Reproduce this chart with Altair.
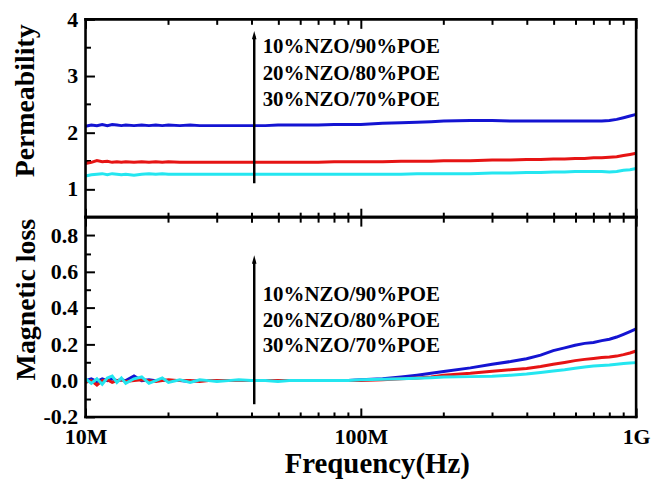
import altair as alt
import pandas as pd

# ---------------- data ----------------
freq_mhz = [10, 10.5, 11, 11.5, 12, 12.5, 13, 13.5, 14, 15, 16, 17, 18, 19, 20,
            22, 24, 26, 28, 30, 33, 36, 40, 45, 50, 55, 60, 70, 80, 90, 100,
            120, 140, 160, 180, 200, 250, 300, 350, 400, 450, 500, 550, 600,
            650, 700, 750, 800, 850, 900, 950, 1000]

series_names = ["10%NZO/90%POE", "20%NZO/80%POE", "30%NZO/70%POE"]
series_colors = ["#1414d2", "#e61414", "#24e6f0"]

perm_10 = [2.11, 2.13, 2.12, 2.14, 2.12, 2.14, 2.13, 2.12, 2.13, 2.12, 2.13, 2.12, 2.13, 2.12, 2.13,
           2.12, 2.13, 2.12, 2.12, 2.12, 2.12, 2.12, 2.12, 2.12, 2.13, 2.13, 2.13, 2.13, 2.14, 2.14, 2.14,
           2.16, 2.17, 2.18, 2.19, 2.20, 2.21, 2.21, 2.20, 2.20, 2.20, 2.20, 2.20, 2.20,
           2.20, 2.20, 2.20, 2.21, 2.23, 2.26, 2.29, 2.32]
perm_20 = [1.45, 1.47, 1.50, 1.48, 1.49, 1.47, 1.48, 1.47, 1.48, 1.47, 1.48, 1.47, 1.48, 1.47, 1.48,
           1.47, 1.47, 1.47, 1.47, 1.47, 1.47, 1.47, 1.47, 1.47, 1.47, 1.47, 1.47, 1.47, 1.48, 1.48, 1.48,
           1.48, 1.49, 1.49, 1.49, 1.50, 1.50, 1.51, 1.51, 1.52, 1.52, 1.53, 1.53, 1.54,
           1.54, 1.55, 1.55, 1.56, 1.57, 1.59, 1.61, 1.63]
perm_30 = [1.23, 1.25, 1.26, 1.27, 1.25, 1.27, 1.26, 1.25, 1.26, 1.24, 1.26, 1.27, 1.26, 1.27, 1.26,
           1.26, 1.26, 1.26, 1.26, 1.26, 1.26, 1.26, 1.26, 1.26, 1.26, 1.26, 1.26, 1.26, 1.26, 1.26, 1.26,
           1.26, 1.26, 1.27, 1.27, 1.27, 1.27, 1.28, 1.28, 1.29, 1.29, 1.30, 1.30, 1.31,
           1.31, 1.31, 1.31, 1.30, 1.31, 1.33, 1.34, 1.36]

loss_10 = [0.00, 0.01, -0.005, 0.01, 0.00, 0.01, 0.00, 0.005, 0.00, 0.025, 0.00, 0.005, 0.00, 0.005, 0.00,
           0.00, -0.005, 0.00, 0.00, 0.00, 0.00, 0.00, 0.00, 0.00, 0.00, 0.00, 0.00, 0.00, 0.00, 0.00, 0.005,
           0.01, 0.02, 0.03, 0.04, 0.05, 0.07, 0.09, 0.105, 0.12, 0.14, 0.165, 0.18, 0.195,
           0.205, 0.21, 0.22, 0.228, 0.24, 0.255, 0.27, 0.285]
loss_20 = [-0.01, 0.00, -0.025, 0.00, 0.005, -0.01, 0.00, 0.005, -0.005, 0.00, 0.005, 0.00, -0.005, 0.00, 0.005,
           0.00, 0.00, -0.005, 0.00, 0.00, 0.00, 0.00, 0.00, 0.00, 0.00, 0.00, 0.00, 0.00, 0.00, 0.00, 0.00,
           0.005, 0.01, 0.015, 0.02, 0.03, 0.04, 0.052, 0.06, 0.067, 0.078, 0.09, 0.10, 0.11,
           0.117, 0.122, 0.127, 0.13, 0.135, 0.143, 0.152, 0.163]
loss_30 = [0.01, -0.015, 0.01, -0.02, 0.015, 0.025, -0.01, 0.015, -0.015, 0.01, 0.02, -0.015, 0.00, 0.015, -0.01,
           0.005, -0.01, 0.005, 0.00, -0.005, 0.00, 0.005, 0.00, 0.00, -0.005, 0.00, 0.00, 0.00, 0.00, 0.00, 0.005,
           0.008, 0.01, 0.013, 0.016, 0.02, 0.022, 0.024, 0.03, 0.036, 0.045, 0.053, 0.06, 0.068,
           0.075, 0.08, 0.083, 0.086, 0.09, 0.094, 0.097, 0.099]

# axis domains
freq_domain = [1e7, 1e9]
perm_domain = [0.5, 4]
loss_domain = [-0.2, 0.9]

# annotation anchors (data coordinates)
label_freq = 44e6
arrow_freq = 41e6
perm_label_y = [3.51, 3.04, 2.57]
perm_arrow = [1.10, 3.70]
loss_label_y = [0.47, 0.33, 0.19]
loss_arrow = [-0.13, 0.66]

x_major = [1e7, 1e8, 1e9]
x_minor = [2e7, 3e7, 4e7, 5e7, 6e7, 7e7, 8e7, 9e7,
           2e8, 3e8, 4e8, 5e8, 6e8, 7e8, 8e8, 9e8]
perm_major = [1, 2, 3, 4]
perm_minor = [1.5, 2.5, 3.5]
loss_major = [-0.2, 0.0, 0.2, 0.4, 0.6, 0.8]
loss_minor = [-0.1, 0.1, 0.3, 0.5, 0.7]


def long_df(arrays):
    rows = []
    for name, vals in zip(series_names, arrays):
        for f, v in zip(freq_mhz, vals):
            rows.append({"freq": f * 1e6, "value": v, "series": name})
    return pd.DataFrame(rows)


perm_df = long_df([perm_10, perm_20, perm_30])
loss_df = long_df([loss_10, loss_20, loss_30])

FONT = "Liberation Serif"
MAJ, MIN = 9, 5
x_scale = alt.Scale(type="log", domain=freq_domain, nice=False)
color_scale = alt.Scale(domain=series_names, range=series_colors)
TXT = dict(labelFont=FONT, titleFont=FONT, labelFontWeight="bold", titleFontWeight="bold",
           labelColor="black", titleColor="black")


def tick_axis(values, orient, size, **kw):
    return alt.Axis(values=values, orient=orient, tickSize=size, offset=-size,
                    domain=False, labels=False, grid=False, tickWidth=2,
                    tickColor="black", **kw)


def panel(df, y_dom, y_major, y_minor, y_title, y_fmt, title_pad, title_y, label_y, arrow, show_x):
    y_scale = alt.Scale(domain=y_dom, nice=False, zero=False)
    base = alt.Chart(df)
    if show_x:
        x_main_axis = alt.Axis(values=x_major, orient="bottom", tickSize=MAJ, offset=-MAJ,
                               domain=False, grid=False, tickWidth=2, tickColor="black",
                               labelExpr="datum.value >= 1e9 ? '1G' : (datum.value >= 1e8 ? '100M' : '10M')",
                               labelFontSize=22, labelPadding=10, labelFlush=False,
                               titleFontSize=29, titlePadding=2, titleX=293, **TXT)
        x_title = "Frequency(Hz)"
    else:
        x_main_axis = tick_axis(x_major, "bottom", MAJ)
        x_title = None

    lines = base.mark_line(strokeWidth=3).encode(
        x=alt.X("freq:Q", scale=x_scale, axis=x_main_axis, title=x_title),
        y=alt.Y("value:Q", scale=y_scale, title=y_title,
                axis=alt.Axis(values=y_major, orient="left", tickSize=MAJ, offset=-MAJ,
                              domain=False, grid=False, tickWidth=2, tickColor="black",
                              labelExpr=y_fmt, labelFontSize=22, labelPadding=8,
                              titleFontSize=28, titlePadding=title_pad, titleY=title_y, **TXT)),
        color=alt.Color("series:N", scale=color_scale, legend=None),
        detail="series:N",
    )
    minor_bl = base.mark_line(opacity=0).encode(
        x=alt.X("freq:Q", scale=x_scale, axis=tick_axis(x_minor, "bottom", MIN), title=None),
        y=alt.Y("value:Q", scale=y_scale, axis=tick_axis(y_minor, "left", MIN), title=None),
        detail="series:N",
    )
    major_top = base.mark_line(opacity=0).encode(
        x=alt.X("freq:Q", scale=x_scale, axis=tick_axis(x_major, "top", MAJ), title=None),
        y=alt.Y("value:Q", scale=y_scale, axis=None),
        detail="series:N",
    )
    minor_top = base.mark_line(opacity=0).encode(
        x=alt.X("freq:Q", scale=x_scale, axis=tick_axis(x_minor, "top", MIN), title=None),
        y=alt.Y("value:Q", scale=y_scale, axis=None),
        detail="series:N",
    )

    # frame edges as rules through the scales
    vert_df = pd.DataFrame({"x": freq_domain, "y1": [y_dom[0]] * 2, "y2": [y_dom[1]] * 2})
    horiz_df = pd.DataFrame({"y": y_dom, "x1": [freq_domain[0]] * 2, "x2": [freq_domain[1]] * 2})
    frame_v = alt.Chart(vert_df).mark_rule(color="black", strokeWidth=2.6, strokeCap="square").encode(
        x=alt.X("x:Q", scale=x_scale, axis=None),
        y=alt.Y("y1:Q", scale=y_scale, axis=None),
        y2="y2:Q",
    )
    frame_h = alt.Chart(horiz_df).mark_rule(color="black", strokeWidth=2.6, strokeCap="square").encode(
        y=alt.Y("y:Q", scale=y_scale, axis=None),
        x=alt.X("x1:Q", scale=x_scale, axis=None),
        x2="x2:Q",
    )

    ann = pd.DataFrame({"freq": [label_freq] * 3, "value": label_y, "text": series_names})
    texts = alt.Chart(ann).mark_text(font=FONT, fontWeight="bold", fontSize=21,
                                     align="left", baseline="middle", color="black").encode(
        x=alt.X("freq:Q", scale=x_scale, axis=None),
        y=alt.Y("value:Q", scale=y_scale, axis=None),
        text="text:N",
    )
    arr = pd.DataFrame({"freq": [arrow_freq], "y1": [arrow[0]], "y2": [arrow[1]]})
    shaft = alt.Chart(arr).mark_rule(color="black", strokeWidth=2.5).encode(
        x=alt.X("freq:Q", scale=x_scale, axis=None),
        y=alt.Y("y1:Q", scale=y_scale, axis=None),
        y2="y2:Q",
    )
    head = alt.Chart(arr).mark_point(shape="M0,-1.3L0.55,0.7L-0.55,0.7Z", filled=True,
                                     color="black", opacity=1, size=70).encode(
        x=alt.X("freq:Q", scale=x_scale, axis=None),
        y=alt.Y("y2:Q", scale=y_scale, axis=None),
    )
    return alt.layer(lines, minor_bl, major_top, minor_top, frame_v, frame_h,
                     shaft, head, texts).resolve_axis(x="independent", y="independent")


top = panel(perm_df, perm_domain, perm_major, perm_minor,
            "Permeability", "format(datum.value, 'd')", 27, 81.5, perm_label_y, perm_arrow, False
            ).properties(width=554, height=199)
bottom = panel(loss_df, loss_domain, loss_major, loss_minor,
               "Magnetic loss",
               "datum.value < 0 ? '-' + format(-datum.value, '.1f') : format(datum.value, '.1f')",
               3, 82.5, loss_label_y, loss_arrow, True
               ).properties(width=554, height=201)

chart = alt.vconcat(top, bottom, spacing=0, bounds="flush").properties(
    padding={"left": 4, "top": -1, "right": 5, "bottom": 0},
    background="white",
).configure_view(strokeOpacity=0).configure_axis(
    labelFont=FONT, titleFont=FONT, labelFontWeight="bold", titleFontWeight="bold",
    labelColor="black", titleColor="black", grid=False
)

chart.save("out.html", embed_options={"renderer": "svg", "actions": False})
